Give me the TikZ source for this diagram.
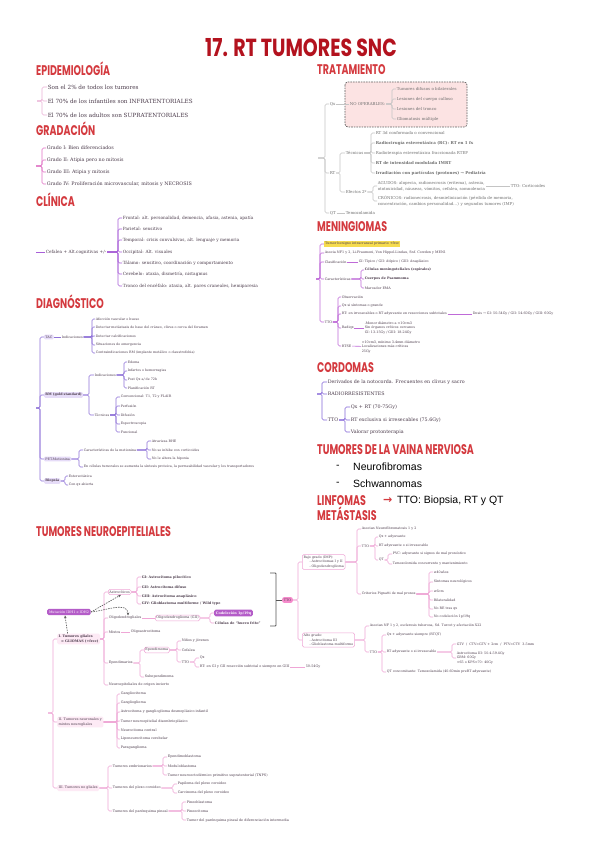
\documentclass[tikz,border=0pt]{standalone}
\usepackage{fontspec}
\usepackage{graphicx}
\setmainfont{DejaVu Serif}
\newfontfamily\hfont{Poppins}
\newfontfamily\sfont{Liberation Sans}
\newfontfamily\symfont{DejaVu Sans}
\usetikzlibrary{arrows.meta}
\definecolor{txt}{HTML}{4B3B4B}
\definecolor{hred}{HTML}{D43A3F}
\definecolor{tred}{HTML}{B3121E}
\definecolor{cEpi}{HTML}{EBB0D6}
\definecolor{cGra}{HTML}{E070C4}
\definecolor{cCli}{HTML}{A85FD8}
\definecolor{cDia}{HTML}{8F72D8}
\definecolor{fDia}{HTML}{E6DCF8}
\definecolor{cTra}{HTML}{C4C4C4}
\definecolor{tTra}{HTML}{6E6E6E}
\definecolor{fTra}{HTML}{FCE3E3}
\definecolor{cMen}{HTML}{BF6AD8}
\definecolor{yMen}{HTML}{F6DC4E}
\definecolor{cCor}{HTML}{8566D8}
\definecolor{cNeu}{HTML}{EFA6D6}
\definecolor{fNeu}{HTML}{FDEAF5}
\definecolor{pMut}{HTML}{B45CC8}
\definecolor{pTTO}{HTML}{F58ACB}
\definecolor{gBr}{HTML}{555555}
\newcommand{\hd}[1]{\scalebox{0.95}[1.4]{#1}}
\newcommand{\kids}[4]{\path (#3,0) coordinate (bx);\foreach \k in {#4}{\draw[#1] (#2.east) -- (#2.east -| bx) |- (\k.west);}}
\tikzset{
 base/.style={anchor=west, inner sep=0.6pt, text=txt, align=left},
 ep/.style={base,font=\fontsize{5.7}{6.8}\selectfont},
 gr/.style={base,font=\fontsize{4.8}{5.8}\selectfont},
 cl/.style={base,font=\fontsize{4.3}{5.2}\selectfont},
 dg/.style={base,font=\fontsize{3.3}{4.1}\selectfont},
 dgb/.style={dg, fill=fDia, rounded corners=1.2pt, inner sep=1.2pt},
 tr/.style={base,text=tTra,font=\fontsize{4}{5.6}\selectfont},
 mn/.style={base,font=\fontsize{3.35}{4.8}\selectfont},
 cd/.style={base,font=\fontsize{4.8}{5.8}\selectfont},
 ne/.style={base,font=\fontsize{3.4}{4.5}\selectfont},
 neb/.style={ne, draw=cNeu, fill=white, rounded corners=1.5pt, inner sep=1.2pt, line width=0.5pt},
 nef/.style={ne, fill=fNeu, rounded corners=1.5pt, inner sep=1.5pt},
 nr/.style={base,font=\fontsize{3.3}{4.5}\selectfont},
 nrb/.style={nr, draw=cNeu, fill=white, rounded corners=1.5pt, inner sep=1.3pt, line width=0.5pt},
 head/.style={anchor=west, inner sep=0pt, text=hred, font=\hfont\bfseries\fontsize{10}{10}\selectfont},
 pt/.style={inner sep=0pt, minimum size=0pt, outer sep=0pt},
 lk/.style={line width=0.6pt, rounded corners=1.5pt},
 dsh/.style={line width=0.6pt, draw=gray!70!black, dash pattern=on 1.5pt off 1pt, -{Stealth[length=3pt,width=2.5pt]}},
}
\begin{document}
\begin{tikzpicture}[x=1pt,y=-1pt]
\useasboundingbox (0,0) rectangle (600,848);
\fill[white] (0,0) rectangle (600,848);
% title
\node[inner sep=0, text=tred, font=\hfont\bfseries\fontsize{19}{19}\selectfont] (title) at (301,48) {\scalebox{1}[1.3]{17. RT TUMORES SNC}};

% EPIDEMIOLOGIA
\node[head] (hEpi) at (36,69) {\hd{EPIDEMIOLOGÍA}};
\node[pt] (epR) at (37,101) {};
\node[ep] (ep1) at (47,87) {Son el 2\% de todos los tumores};
\node[ep] (ep2) at (47,101) {El 70\% de los infantiles son INFRATENTORIALES};
\node[ep] (ep3) at (47,115) {El 70\% de los adultos son SUPRATENTORIALES};
\kids{lk,draw=cEpi}{epR}{42}{ep1,ep2,ep3}

% GRADACION
\node[head] (hGra) at (36,129) {\hd{GRADACIÓN}};
\node[pt] (grR) at (36,166) {};
\node[gr] (gr1) at (46,148) {Grado I: Bien diferenciados};
\node[gr] (gr2) at (46,160) {Grado II: Atipia pero no mitosis};
\node[gr] (gr3) at (46,172) {Grado III: Atipia y mitosis};
\node[gr] (gr4) at (46,184) {Grado IV: Proliferación microvascular, mitosis y NECROSIS};
\kids{lk,draw=cGra}{grR}{42}{gr1,gr2,gr3,gr4}

% CLINICA
\node[head] (hCli) at (36,200) {\hd{CLÍNICA}};
\node[pt] (clR) at (36,252) {};
\node[cl] (cl0) at (45,252) {Cefalea + Alt.cognitivas +/-};
\draw[lk,draw=cCli] (clR) -- (cl0.west);
\node[cl] (cl1) at (122,218) {Frontal: alt. personalidad, demencia, afasia, astenia, apatía};
\node[cl] (cl2) at (122,229) {Parietal: sensitivo};
\node[cl] (cl3) at (122,240) {Temporal: crisis convulsivas, alt. lenguaje y memoria};
\node[cl] (cl4) at (122,252) {Occipital: Alt. visuales};
\node[cl] (cl5) at (122,263) {Tálamo: sensitivo, coordinación y comportamiento};
\node[cl] (cl6) at (122,274) {Cerebelo: ataxia, dismetría, nistagmus};
\node[cl] (cl7) at (122,286) {Tronco del encéfalo: ataxia, alt. pares craneales, hemiparesia};
\kids{lk,draw=cCli}{cl0}{118}{cl1,cl2,cl3,cl4,cl5,cl6,cl7}

% DIAGNOSTICO
\node[head] (hDia) at (36,302) {\hd{DIAGNÓSTICO}};
\node[pt] (dgR) at (36,408) {};
\node[dgb] (dTAC) at (44,337) {TAC};
\node[dgb] (dRM) at (44,395) {\textbf{RM (gold standard)}};
\node[dgb] (dPET) at (44,459) {PET-Metionina};
\node[dgb] (dBio) at (44,481) {\textbf{Biopsia}};
\kids{lk,draw=cDia}{dgR}{40}{dTAC,dRM,dPET,dBio}
\node[dg] (dI1) at (61,337) {Indicaciones};
\draw[lk,draw=cDia] (dTAC) -- (dI1);
\node[dg] (dT1) at (95,319) {Afección vascular o hueso};
\node[dg] (dT2) at (95,327) {Detectar metástasis de base del cráneo, clivus o cerca del foramen};
\node[dg] (dT3) at (95,336) {Detectar calcificaciones};
\node[dg] (dT4) at (95,345) {Situaciones de emergencia};
\node[dg] (dT5) at (95,353) {Contraindicaciones RM (implante metálico o claustrofobia)};
\kids{lk,draw=cDia}{dI1}{92}{dT1,dT2,dT3,dT4,dT5}
\node[dg] (dI2) at (94,375) {Indicaciones};
\node[dg] (dTe) at (94,415) {Técnicas};
\kids{lk,draw=cDia}{dRM}{89}{dI2,dTe}
\node[dg] (dR1) at (127,362) {Edema};
\node[dg] (dR2) at (127,371) {Infartos o hemorragias};
\node[dg] (dR3) at (127,380) {Post Qx a/ de 72h};
\node[dg] (dR4) at (127,388) {Planificación RT};
\kids{lk,draw=cDia}{dI2}{124}{dR1,dR2,dR3,dR4}
\node[dg] (dE1) at (120,397) {Convencional: T1, T2 y FLAIR};
\node[dg] (dE2) at (120,406) {Perfusión};
\node[dg] (dE3) at (120,415) {Difusión};
\node[dg] (dE4) at (120,424) {Espectroscopia};
\node[dg] (dE5) at (120,432) {Funcional};
\kids{lk,draw=cDia}{dTe}{116}{dE1,dE2,dE3,dE4,dE5}
\node[dg] (dCa) at (83,450) {Características de la metionina};
\node[dg] (dCe) at (83,467) {En células tumorales se aumenta la síntesis proteica, la permeabilidad vascular y los transportadores};
\kids{lk,draw=cDia}{dPET}{79}{dCa,dCe}
\node[dg] (dM1) at (151,441) {Atraviesa BHE};
\node[dg] (dM2) at (151,450) {No se inhibe con corticoides};
\node[dg] (dM3) at (151,459) {No le altera la hipoxia};
\kids{lk,draw=cDia}{dCa}{147}{dM1,dM2,dM3}
\node[dg] (dB1) at (68,476) {Estereotáxica};
\node[dg] (dB2) at (68,485) {Con qx abierta};
\kids{lk,draw=cDia}{dBio}{65}{dB1,dB2}

% TRATAMIENTO
\node[head] (hTra) at (317,70) {\hd{TRATAMIENTO}};
\draw[fill=fTra, draw=gray!75!black, line width=0.7pt, dash pattern=on 1.6pt off 1pt, rounded corners=3pt] (345,82) rectangle (467,127);
\node[pt] (tR) at (318,158) {};
\node[tr] (tQx) at (329,104) {Qx};
\node[tr] (tRT) at (329,173) {RT};
\node[tr] (tQT) at (329,213) {QT};
\kids{lk,draw=cTra}{tR}{325}{tQx,tRT,tQT}
\node[tr] (tNO) at (349,104) {NO OPERABLES:};
\draw[lk,draw=cTra] (tQx) -- (tNO);
\node[tr] (tN1) at (396,89) {Tumores difusos o bilaterales};
\node[tr] (tN2) at (396,99) {Lesiones del cuerpo calloso};
\node[tr] (tN3) at (396,109) {Lesiones del tronco};
\node[tr] (tN4) at (396,119) {Gliomatosis múltiple};
\kids{lk,draw=cTra}{tNO}{392}{tN1,tN2,tN3,tN4}
\node[tr] (tTe) at (345,153) {Técnicas};
\node[tr] (tEf) at (345,192) {Efectos 2º};
\kids{lk,draw=cTra}{tRT}{340}{tTe,tEf}
\node[tr] (tT1) at (375,133) {RT 3d conformada o convencional};
\node[tr] (tT2) at (375,143) {\textbf{Radiocirugía estereotáxica (RC): RT en 1 fx}};
\node[tr] (tT3) at (375,153) {Radioterapia estereotáxica fraccionada RTEF};
\node[tr] (tT4) at (375,163) {\textbf{RT de intensidad modulada IMRT}};
\node[tr] (tT5) at (375,173) {\textbf{Irradiación con partículas (protones) → Pediatría}};
\kids{lk,draw=cTra}{tTe}{371}{tT1,tT2,tT3,tT4,tT5}
\node[tr] (tAg) at (377,186) {AGUDOS: alopecia, radionecrosis (eritema), astenia,\\ototoxicidad, náuseas, vómitos, cefalea, somnolencia};
\node[tr] (tCr) at (377,201) {CRÓNICOS: radionecrosis, desmielinización (pérdida de memoria,\\concentración, cambios personalidad...) y segundos tumores (IMP)};
\kids{lk,draw=cTra}{tEf}{373}{tAg,tCr}
\node[tr] (tCo) at (510,186) {TTO: Corticoides};
\draw[lk,draw=cTra] (tAg) -- (tCo);
\node[tr] (tTm) at (345,213) {Temozolamida};
\draw[lk,draw=cTra] (tQT) -- (tTm);

% MENINGIOMAS
\node[head] (hMen) at (317,227) {\hd{MENINGIOMAS}};
\node[pt] (mR) at (316,279) {};
\node[mn,fill=yMen,inner sep=1pt] (m1) at (324,244) {Tumor benigno intracraneal primario +frec};
\node[mn] (m2) at (324,253) {Asocia NF1 y 2, Li-Fraumeni, Von Hippel-Lindau, Snf. Cowden y MEN1};
\node[mn] (m3) at (324,262) {Clasificación};
\node[mn] (m4) at (324,279) {Características};
\node[mn] (m5) at (324,322) {TTO};
\kids{lk,draw=cMen}{mR}{320}{m1,m2,m3,m4,m5}
\node[mn] (m3b) at (358,262) {GI: Típico / GII: Atípico / GIII: Anaplásico};
\draw[lk,draw=cMen] (m3) -- (m3b);
\node[mn] (mC1) at (364,270) {\textbf{Células meningoteliales (espirales)}};
\node[mn] (mC2) at (364,279) {\textbf{Cuerpos de Psammoma}};
\node[mn] (mC3) at (364,288) {Marcador EMA};
\kids{lk,draw=cMen}{m4}{361}{mC1,mC2,mC3}
\node[mn] (mT1) at (341,297) {Observación};
\node[mn] (mT2) at (341,306) {Qx si síntomas o grande};
\node[mn] (mT3) at (341,314) {RT: en irresecables o RT adyuvante en resecciones subtotales};
\node[mn] (mT4) at (341,328) {Radiqx};
\node[mn] (mT5) at (341,346) {RTSE};
\kids{lk,draw=cMen}{m5}{338}{mT1,mT2,mT3,mT4,mT5}
\node[mn] (mDo) at (472,314) {Dosis → GI: 50-54Gy / GII: 54-60Gy / GIII: 60Gy};
\draw[lk,draw=cMen] (mT3) -- (mDo);
\node[mn] (mRq) at (364,328) {-Menor diámetro a <10cm3\\Sin órganos críticos cercanos\\GI: 13-15Gy / GIII: 18-24Gy};
\draw[lk,draw=cMen] (mT4) -- (mRq);
\node[mn] (mRs) at (361,347) {>10cm3, mínimo 3-4mm diámetro\\Localizaciones más críticas\\25Gy};
\draw[lk,draw=cMen] (mT5) -- (mRs);

% CORDOMAS
\node[head] (hCor) at (317,368) {\hd{CORDOMAS}};
\node[pt] (cR) at (317,394) {};
\node[cd] (c1) at (327,382) {Derivados de la notocorda. Frecuentes en clivus y sacro};
\node[cd] (c2) at (327,394) {RADIORRESISTENTES};
\node[cd] (c3) at (327,420) {TTO};
\kids{lk,draw=cCor}{cR}{322}{c1,c2,c3}
\node[cd] (cT1) at (350,407) {Qx + RT (70-75Gy)};
\node[cd] (cT2) at (350,420) {RT exclusiva si irresecables (75.6Gy)};
\node[cd] (cT3) at (350,432) {Valorar protonterapia};
\kids{lk,draw=cCor}{c3}{345}{cT1,cT2,cT3}

% VAINA
\node[head] (hVai) at (317,450) {\hd{TUMORES DE LA VAINA NERVIOSA}};
\node[anchor=west, inner sep=0, font=\sfont\fontsize{10.5}{10.5}\selectfont] (v1d) at (336,467) {-};
\node[anchor=west, inner sep=0, font=\sfont\fontsize{10.5}{10.5}\selectfont] (v1) at (353,467) {Neurofibromas};
\node[anchor=west, inner sep=0, font=\sfont\fontsize{10.5}{10.5}\selectfont] (v2d) at (336,484) {-};
\node[anchor=west, inner sep=0, font=\sfont\fontsize{10.5}{10.5}\selectfont] (v2) at (353,484) {Schwannomas};
\node[head] (hLin) at (317,501) {\hd{LINFOMAS}};
\node[anchor=west, inner sep=0, text=hred, font=\symfont\bfseries\fontsize{11}{11}\selectfont] (lArr) at (383,501) {→};
\node[anchor=west, inner sep=0, font=\sfont\fontsize{10.5}{10.5}\selectfont] (lTTO) at (397,501) {TTO: Biopsia, RT y QT};
\node[head] (hMet) at (317,514) {\hd{METÁSTASIS}};

% NEUROEPITELIALES
\node[head] (hNeu) at (36,532) {\hd{TUMORES NEUROEPITELIALES}};
\node[ne, fill=pMut, text=white, rounded corners=1.5pt, inner sep=1.8pt] (nMut) at (47,612) {Mutación IDH1 e IDH2};
\node[nef] (nGl) at (57,639) {\textbf{I. Tumores gliales}\\\textbf{\ \ = GLIOMAS (+frec)}};
\node[nef] (nII) at (57,722) {II. Tumores neuronales y\\mixtos neurogliales};
\node[nef] (nIII) at (57,788) {III. Tumores no gliales};
\node[pt] (nR) at (48,713) {};
\kids{lk,draw=cNeu}{nR}{53}{nGl,nII,nIII}
\node[neb] (nAst) at (108,592) {Astrocíticos};
\node[ne] (nOli) at (108,618) {Oligodendrogliales};
\node[ne] (nMix) at (108,632) {Mixtos};
\node[ne] (nEpe) at (108,663) {Ependimarios};
\node[ne] (nInc) at (108,685) {Neuroepiteliales de origen incierto};
\kids{lk,draw=cNeu}{nGl}{104}{nAst,nOli,nMix,nEpe,nInc}
\node[ne] (nA1) at (141,577) {\textbf{GI: Astrocitoma pilocítico}};
\node[ne] (nA2) at (141,587) {\textbf{GII: Astrocitoma difuso}};
\node[ne] (nA3) at (141,596) {\textbf{GIII: Astrocitoma anaplásico}};
\node[ne] (nA4) at (141,604) {\textbf{GIV: Glioblastoma multiforme / Wild type}};
\kids{lk,draw=cNeu}{nAst}{137}{nA1,nA2,nA3,nA4}
\node[neb] (nOG) at (155,618) {Oligodendroglioma (GII)};
\draw[lk,draw=cNeu] (nOli) -- (nOG);
\node[ne, fill=pMut, text=white, rounded corners=1.5pt, inner sep=1.6pt] (nCod) at (214,613) {\textbf{Codeleción 1p/19q}};
\node[ne] (nHue) at (214,623) {\textbf{Células de ``huevo frito''}};
\kids{lk,draw=cNeu}{nOG}{210}{nCod,nHue}
\node[ne] (nOA) at (130,632) {Oligoastrocitoma};
\draw[lk,draw=cNeu] (nMix) -- (nOA);
\node[neb] (nEpm) at (144,650) {Ependimoma};
\node[ne] (nSub) at (144,677) {Subependimoma};
\kids{lk,draw=cNeu}{nEpe}{140}{nEpm,nSub}
\node[ne] (nE1) at (181,641) {Niños y jóvenes};
\node[ne] (nE2) at (181,650) {Cefalea};
\node[ne] (nE3) at (181,662) {TTO};
\kids{lk,draw=cNeu}{nEpm}{177}{nE1,nE2,nE3}
\node[ne] (nE4) at (199,658) {Qx};
\node[ne] (nE5) at (199,667) {RT: en GI y GII resección subtotal o siempre en GIII};
\kids{lk,draw=cNeu}{nE3}{195}{nE4,nE5}
\node[ne] (nE6) at (305,667) {50-54Gy};
\draw[lk,draw=cNeu] (nE5) -- (nE6);
\draw[dsh] ([xshift=-11pt]nGl.north) -- ([xshift=-4pt]nMut.south);
\draw[dsh] (nMut.east) -- ([xshift=13pt]nAst.south west);
\draw[dsh] (nMut.east) to[out=5,in=90] ([xshift=20pt]nOli.north west);

\node[ne] (nN1) at (120,694) {Gangliocitoma};
\node[ne] (nN2) at (120,703) {Ganglioglioma};
\node[ne] (nN3) at (120,712) {Astrocitoma y ganglioglioma desmoplásico infantil};
\node[ne] (nN4) at (120,721) {Tumor neuroepitelial disembrioplásico};
\node[ne] (nN5) at (120,730) {Neurocitoma central};
\node[ne] (nN6) at (120,739) {Liponeurocitoma cerebelar};
\node[ne] (nN7) at (120,748) {Paraganglioma};
\kids{lk,draw=cNeu}{nII}{117}{nN1,nN2,nN3,nN4,nN5,nN6,nN7}
\node[ne] (nEmb) at (112,766) {Tumores embrionarios};
\node[ne] (nPlx) at (112,788) {Tumores del plexo coroideo};
\node[ne] (nPin) at (112,811) {Tumores del parénquima pineal};
\kids{lk,draw=cNeu}{nIII}{108}{nEmb,nPlx,nPin}
\node[ne] (nM1) at (167,757) {Ependimoblastoma};
\node[ne] (nM2) at (167,766) {Meduloblastoma};
\node[ne] (nM3) at (167,775) {Tumor neuroectodérmico primitivo supratentorial (TNPS)};
\kids{lk,draw=cNeu}{nEmb}{163}{nM1,nM2,nM3}
\node[ne] (nP1) at (177,784) {Papiloma del plexo coroideo};
\node[ne] (nP2) at (177,793) {Carcinoma del plexo coroideo};
\kids{lk,draw=cNeu}{nPlx}{173}{nP1,nP2}
\node[ne] (nQ1) at (186,802) {Pineoblastoma};
\node[ne] (nQ2) at (186,811) {Pineocitoma};
\node[ne] (nQ3) at (186,820) {Tumor del parénquima pineal de diferenciación intermedia};
\kids{lk,draw=cNeu}{nPin}{182}{nQ1,nQ2,nQ3}

% right side TTO
\draw[line width=0.8pt, draw=gBr, rounded corners=0.8pt] (270,573) -- (276,573) -- (276,626) -- (270,626);
\node[pt] (nBk) at (276,600) {};
\node[ne, fill=pTTO, text=txt, rounded corners=2pt, inner sep=1.6pt] (nTT) at (282,600) {TTO};
\draw[line width=0.8pt, draw=gBr] (nBk) -- (nTT);
\node[nrb] (nBajo) at (302,562) {Bajo grado (IMP):\\\hspace*{6pt}- Astrocitomas I y II\\\hspace*{6pt}- Oligodendroglioma};
\node[nrb] (nAlto) at (302,640) {Alto grado:\\\hspace*{6pt}- Astrocitoma III\\\hspace*{6pt}- Glioblastoma multiforme};
\kids{lk,draw=cNeu}{nTT}{298}{nBajo,nAlto}
\node[nr] (nB1) at (361,529) {Asocian Neurofibromatosis 1 y 2};
\node[nr] (nB2) at (361,546) {TTO};
\node[nr] (nB3) at (361,594) {Criterios Pignatti de mal pronos};
\kids{lk,draw=cNeu}{nBajo}{357}{nB1,nB2,nB3}
\node[nr] (nB4) at (378,537) {Qx + adyuvante};
\node[nr] (nB5) at (378,546) {RT adyuvante o si irresecable};
\node[nr] (nB6) at (378,560) {QT};
\kids{lk,draw=cNeu}{nB2}{375}{nB4,nB5,nB6}
\node[nr] (nB7) at (392,554) {PVC: adyuvante si signos de mal pronóstico};
\node[nr] (nB8) at (392,564) {Temozolomida concurrente y mantenimiento};
\kids{lk,draw=cNeu}{nB6}{388}{nB7,nB8}
\node[nr] (nG1) at (433,572) {≥40años};
\node[nr] (nG2) at (433,582) {Síntomas neurológicos};
\node[nr] (nG3) at (433,591) {≥6cm};
\node[nr] (nG4) at (433,600) {Bilateralidad};
\node[nr] (nG5) at (433,609) {No RE tras qx};
\node[nr] (nG6) at (433,617) {No codeleción 1p/19q};
\kids{lk,draw=cNeu}{nB3}{429}{nG1,nG2,nG3,nG4,nG5,nG6}
\node[nr] (nH1) at (369,626) {Asocian NF 1 y 2, esclerosis tuberosa, Sd. Turcot y afectación X22};
\node[nr] (nH2) at (369,652) {TTO};
\kids{lk,draw=cNeu}{nAlto}{365}{nH1,nH2}
\node[nr] (nH3) at (386,635) {Qx + adyuvante siempre (RTQT)};
\node[nr] (nH4) at (386,652) {RT adyuvante o si irresecable};
\node[nr] (nH5) at (386,672) {QT concomitante: Temozolamida (40-60min preRT adyuvante)};
\kids{lk,draw=cNeu}{nH2}{382}{nH3,nH4,nH5}
\node[nr] (nH6) at (456,644) {GTV \ / \ CTV=GTV + 2cm \ / \ PTV=CTV \ 3-5mm};
\node[nr] (nH7) at (456,658) {Astrocitoma III: 50.4-59.4Gy\\GBM: 60Gy\\<65 o KPS<70: 40Gy};
\kids{lk,draw=cNeu}{nH4}{452}{nH6,nH7}
\end{tikzpicture}
\end{document}
